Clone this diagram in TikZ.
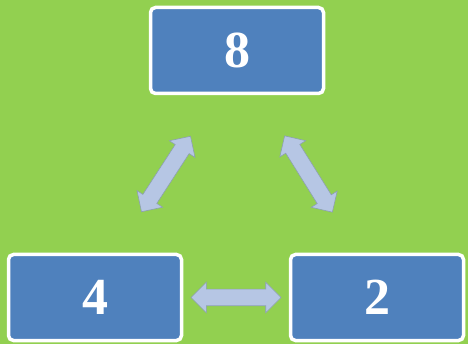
\documentclass[tikz,border=0pt]{standalone}
\usepackage{fontspec}
\setmainfont{Liberation Serif}
\usetikzlibrary{shapes.arrows,calc}

\definecolor{bggreen}{RGB}{146,208,80}
\definecolor{boxblue}{RGB}{79,129,189}
\definecolor{arrowfill}{RGB}{182,198,228}
\definecolor{arrowline}{RGB}{140,160,175}

\begin{document}
\begin{tikzpicture}[
  x=1pt, y=-1pt,
  numbox/.style={draw=white, line width=3.5pt, rounded corners=5pt, fill=boxblue, text=white,
    minimum width=173pt, minimum height=86pt, font=\fontsize{52}{52}\selectfont\bfseries},
  twoway/.style={double arrow, draw=arrowline, line width=0.6pt, fill=arrowfill,
    inner xsep=0pt, inner ysep=8pt, minimum height=90pt, double arrow head extend=7pt}
]

\fill[bggreen] (0,0) rectangle (468,344);
\useasboundingbox (0,0) rectangle (468,344);

\node[numbox] (eight) at (237,50.5) {8};
\node[numbox] (four) at (95,297.5) {4};
\node[numbox] (two) at (377,297.5) {2};

\node[twoway] (fourtwo) at ($(four)!0.5!(two)$) {};
\node[twoway, rotate=57] (foureight) at ($(four)!0.5!(eight)$) {};
\node[twoway, rotate=-58] (eighttwo) at ($(eight)!0.5!(two)+(1.5,0)$) {};

\end{tikzpicture}
\end{document}
